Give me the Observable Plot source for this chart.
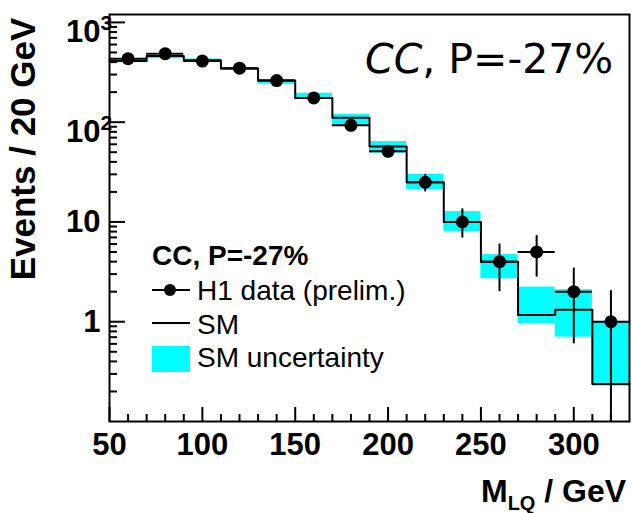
<!DOCTYPE html>
<html>
<head>
<meta charset="utf-8">
<script src="https://cdn.jsdelivr.net/npm/d3@7"></script>
<script src="https://cdn.jsdelivr.net/npm/@observablehq/plot@0.6"></script>
<style>
  html, body { margin: 0; padding: 0; background: white; }
  #wrap { position: relative; width: 632px; height: 513px; }
  #ov { position: absolute; left: 0; top: 0; pointer-events: none; }
</style>
</head>
<body>
<div id="wrap"></div>
<script>
// ---- data ----
const binLo  = [50, 70, 90, 110, 130, 150, 170, 190, 210, 230, 250, 270, 290, 310];
const binHi  = [70, 90, 110, 130, 150, 170, 190, 210, 230, 250, 270, 290, 310, 330];
const binMid = [60, 80, 100, 120, 140, 160, 180, 200, 220, 240, 260, 280, 300, 320];

const dataN   = [433, 486, 410, 348, 261, 175, 93, 51, 25, 10, 4, 5, 2, 1];
const dataLo  = [412, 464, 390, 329, 245, 162, 83, 44, 20, 6.9, 2.0, 2.8, 0.6, 0.01];
const dataHi  = [454, 508, 430, 367, 277, 188, 103, 58, 30, 13.5, 6.0, 7.3, 3.45, 2.05];

const smVal = [410, 460, 417, 345, 262, 175, 111, 57, 25, 10, 4.0, 1.17, 1.32, 0.238];
const smLo  = [395, 432, 400, 330, 240, 172, 94, 49, 21, 8.0, 2.7, 0.955, 0.70, 0.226];
const smHi  = [428, 465, 430, 352, 266, 195, 120, 64, 30, 12.7, 4.7, 2.22, 2.09, 1.0];

const xMajor = [50, 100, 150, 200, 250, 300];
const xMinor = [60, 70, 80, 90, 110, 120, 130, 140, 160, 170, 180, 190, 210, 220, 230, 240,
                260, 270, 280, 290, 310, 320];
const yMajor = [1, 10, 100, 1000];
const yMinor = [0.2, 0.3, 0.4, 0.5, 0.6, 0.7, 0.8, 0.9,
                2, 3, 4, 5, 6, 7, 8, 9,
                20, 30, 40, 50, 60, 70, 80, 90,
                200, 300, 400, 500, 600, 700, 800, 900];
const yPlainLabels = [1, 10];
const yPowLabels = [100, 1000];
const yPowExp = ["2", "3"];

// ---- tables ----
const rows = binLo.map((lo, i) => ({
  lo, hi: binHi[i], mid: binMid[i],
  n: dataN[i], nLo: dataLo[i], nHi: dataHi[i],
  sm: smVal[i], smLo: smLo[i], smHi: smHi[i]
}));
const smStep = rows.map(r => ({x: r.lo, y: r.sm}))
  .concat([{x: binHi[binHi.length - 1], y: smVal[smVal.length - 1]}]);
const pow = yPowLabels.map((v, i) => ({v, e: yPowExp[i]}));

const FONT = "'Liberation Sans', Arial, Helvetica, sans-serif";
const CYAN = "#00ffff";

const chart = Plot.plot({
  width: 632,
  height: 513,
  marginLeft: 109,
  marginRight: 3,
  marginTop: 14,
  marginBottom: 92,
  style: {fontFamily: FONT, background: "white", color: "black", overflow: "visible"},
  x: {domain: [50, 330]},
  y: {type: "log", domain: [0.1, 1200]},
  marks: [
    // SM uncertainty band
    Plot.rect(rows, {x1: "lo", x2: "hi", y1: "smLo", y2: "smHi", fill: CYAN}),
    // SM histogram
    Plot.line(smStep, {x: "x", y: "y", curve: "step-after", stroke: "black", strokeWidth: 2}),
    // data error bars
    Plot.ruleX(rows, {x: "mid", y1: "nLo", y2: "nHi", stroke: "black", strokeWidth: 2, clip: true}),
    Plot.ruleY(rows, {y: "n", x1: "lo", x2: "hi", stroke: "black", strokeWidth: 2, clip: true}),
    Plot.dot(rows, {x: "mid", y: "n", r: 6.5, fill: "black", stroke: "none"}),
    // ticks (inside frame)
    Plot.axisX({ticks: xMajor, tickSize: -14, tickFormat: () => "", strokeWidth: 2, label: null}),
    Plot.axisX({ticks: xMinor, tickSize: -7, tickFormat: () => "", strokeWidth: 2, label: null}),
    Plot.axisY({ticks: yMajor, tickSize: -16, tickFormat: () => "", strokeWidth: 2, label: null}),
    Plot.axisY({ticks: yMinor, tickSize: -8, tickFormat: () => "", strokeWidth: 2, label: null}),
    // tick labels
    Plot.axisX({ticks: xMajor, tickSize: 0, tickPadding: 11, tickFormat: d => String(d),
                fontSize: 31, fontWeight: "bold", label: null}),
    Plot.axisY({ticks: yPlainLabels, tickSize: 0, tickPadding: 9, tickFormat: d => String(d),
                fontSize: 31, fontWeight: "bold", label: null}),
    Plot.axisY({ticks: yPowLabels, tickSize: 0, tickPadding: 9, tickFormat: () => "10",
                dy: 10, fontSize: 31, fontWeight: "bold", label: null}),
    Plot.text(pow, {y: "v", text: "e", frameAnchor: "left", textAnchor: "start",
                    dx: -9, dy: 1, fontSize: 21, fontWeight: "bold"}),
    Plot.frame({stroke: "black", strokeWidth: 2})
  ]
});

const wrap = document.getElementById("wrap");
wrap.appendChild(chart);

// ---- overlay: titles, annotation, legend ----
const ns = "http://www.w3.org/2000/svg";
const ov = document.createElementNS(ns, "svg");
ov.setAttribute("id", "ov");
ov.setAttribute("width", 632);
ov.setAttribute("height", 513);
ov.innerHTML = `
  <g font-family="${FONT}" fill="black">
    <text transform="translate(35,149) rotate(-90)" text-anchor="middle" font-weight="bold" font-size="35">Events / 20 GeV</text>
    <text x="481" y="502" font-weight="bold" font-size="32">M<tspan font-size="20" dy="8">LQ</tspan><tspan dy="-8"> / GeV</tspan></text>
    <text x="152" y="265" font-weight="bold" font-size="28">CC, P=-27%</text>
    <line x1="152" x2="190" y1="290" y2="290" stroke="black" stroke-width="2"/>
    <circle cx="170" cy="290" r="6" fill="black"/>
    <text x="197" y="300" font-size="28">H1 data (prelim.)</text>
    <line x1="152" x2="190" y1="323" y2="323" stroke="black" stroke-width="2"/>
    <text x="197" y="334" font-size="28">SM</text>
    <rect x="152" y="346" width="38" height="26" fill="${CYAN}"/>
    <text x="197" y="367" font-size="28">SM uncertainty</text>
  </g>
  <text x="365" y="73" font-family="'DejaVu Sans', sans-serif" font-size="41" fill="black"><tspan font-style="italic">CC</tspan>, P=-27%</text>
`;
wrap.appendChild(ov);
</script>
</body>
</html>
